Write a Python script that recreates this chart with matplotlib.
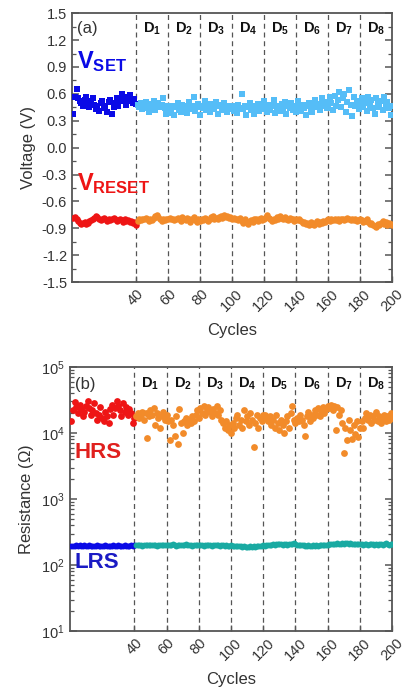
import matplotlib
matplotlib.use("Agg")
import matplotlib.pyplot as plt
from matplotlib.ticker import AutoMinorLocator, LogLocator, NullFormatter

plt.rcParams['font.family'] = ['Liberation Sans', 'DejaVu Sans']
plt.rcParams['mathtext.fontset'] = 'custom'
plt.rcParams['mathtext.rm'] = 'Liberation Sans'
plt.rcParams['mathtext.bf'] = 'Liberation Sans:bold'
plt.rcParams['mathtext.it'] = 'Liberation Sans:italic'

# ---- data -------------------------------------------------------------
cycles_a = list(range(1, 41))
cycles_b = list(range(41, 201))

vset_a = [0.38, 0.57, 0.66, 0.55, 0.52, 0.50, 0.47, 0.53, 0.56, 0.49,
          0.45, 0.52, 0.55, 0.48, 0.43, 0.46, 0.41, 0.50, 0.52, 0.47,
          0.44, 0.40, 0.51, 0.53, 0.38, 0.45, 0.50, 0.55, 0.47, 0.52,
          0.60, 0.57, 0.53, 0.48, 0.56, 0.59, 0.52, 0.50, 0.54, 0.49]

vset_b = [0.48, 0.45, 0.50, 0.43, 0.47, 0.51, 0.44, 0.40, 0.49, 0.46,
          0.52, 0.42, 0.47, 0.50, 0.45, 0.48, 0.55, 0.44, 0.38, 0.46,
          0.43, 0.39, 0.47, 0.36, 0.45, 0.50, 0.42, 0.40, 0.48, 0.44,
          0.46, 0.39, 0.51, 0.43, 0.47, 0.56, 0.41, 0.45, 0.49, 0.37,
          0.47, 0.44, 0.52, 0.42, 0.46, 0.40, 0.49, 0.45, 0.43, 0.51,
          0.38, 0.46, 0.48, 0.42, 0.50, 0.44, 0.40, 0.47, 0.43, 0.45,
          0.41, 0.46, 0.39, 0.48, 0.44, 0.60, 0.43, 0.47, 0.37, 0.45,
          0.50, 0.42, 0.46, 0.38, 0.44, 0.49, 0.41, 0.47, 0.43, 0.52,
          0.45, 0.40, 0.48, 0.42, 0.46, 0.53, 0.39, 0.44, 0.47, 0.41,
          0.49, 0.43, 0.51, 0.38, 0.46, 0.44, 0.50, 0.42, 0.47, 0.40,
          0.52, 0.45, 0.41, 0.48, 0.44, 0.37, 0.46, 0.50, 0.43, 0.40,
          0.47, 0.53, 0.45, 0.49, 0.42, 0.55, 0.47, 0.51, 0.44, 0.48,
          0.56, 0.50, 0.42, 0.58, 0.47, 0.53, 0.62, 0.45, 0.55, 0.60,
          0.40, 0.51, 0.64, 0.48, 0.35, 0.57, 0.46, 0.52, 0.43, 0.49,
          0.55, 0.45, 0.50, 0.41, 0.57, 0.47, 0.53, 0.44, 0.38, 0.55,
          0.49, 0.45, 0.52, 0.42, 0.57, 0.48, 0.51, 0.44, 0.36, 0.47]

vreset_a = [-0.78, -0.77, -0.80, -0.82, -0.84, -0.85, -0.84, -0.83, -0.85, -0.84,
            -0.82, -0.81, -0.79, -0.78, -0.76, -0.77, -0.79, -0.81, -0.80, -0.78,
            -0.80, -0.82, -0.79, -0.81, -0.80, -0.78, -0.80, -0.82, -0.81, -0.79,
            -0.81, -0.83, -0.80, -0.82, -0.81, -0.83, -0.82, -0.84, -0.83, -0.86]

vreset_b = [-0.82, -0.80, -0.81, -0.79, -0.80, -0.78, -0.80, -0.82, -0.79, -0.81,
            -0.78, -0.76, -0.75, -0.77, -0.80, -0.82, -0.80, -0.81, -0.79, -0.80,
            -0.78, -0.80, -0.79, -0.81, -0.80, -0.78, -0.80, -0.82, -0.77, -0.79,
            -0.81, -0.78, -0.80, -0.83, -0.79, -0.77, -0.81, -0.83, -0.80, -0.82,
            -0.79, -0.81, -0.78, -0.80, -0.82, -0.79, -0.77, -0.76, -0.80, -0.78,
            -0.79, -0.77, -0.76, -0.78, -0.75, -0.77, -0.76, -0.78, -0.77, -0.79,
            -0.78, -0.80, -0.79, -0.81, -0.78, -0.82, -0.84, -0.80, -0.83, -0.85,
            -0.82, -0.81, -0.83, -0.80, -0.79, -0.82, -0.80, -0.78, -0.81, -0.79,
            -0.77, -0.75, -0.78, -0.80, -0.82, -0.79, -0.81, -0.77, -0.79, -0.76,
            -0.78, -0.80, -0.77, -0.79, -0.81, -0.78, -0.80, -0.79, -0.82, -0.80,
            -0.81, -0.79, -0.82, -0.84, -0.83, -0.85, -0.84, -0.86, -0.83, -0.85,
            -0.86, -0.84, -0.82, -0.85, -0.83, -0.84, -0.82, -0.83, -0.81, -0.80,
            -0.82, -0.80, -0.81, -0.79, -0.81, -0.80, -0.82, -0.80, -0.79, -0.81,
            -0.80, -0.78, -0.80, -0.81, -0.79, -0.81, -0.80, -0.82, -0.81, -0.80,
            -0.81, -0.83, -0.82, -0.80, -0.83, -0.85, -0.84, -0.86, -0.87, -0.88,
            -0.85, -0.86, -0.84, -0.82, -0.85, -0.83, -0.86, -0.84, -0.85, -0.86]

hrs_a = [1.5e4, 2.2e4, 2.9e4, 2.5e4, 2.0e4, 2.7e4, 2.3e4, 1.8e4, 2.1e4, 2.6e4,
         3.0e4, 2.4e4, 1.9e4, 2.2e4, 2.8e4, 2.0e4, 1.6e4, 1.9e4, 2.5e4, 1.7e4,
         1.5e4, 2.1e4, 1.8e4, 1.4e4, 2.3e4, 2.7e4, 1.9e4, 2.4e4, 3.0e4, 2.6e4,
         2.2e4, 1.8e4, 2.8e4, 2.1e4, 2.5e4, 1.9e4, 2.3e4, 2.0e4, 1.4e4, 1.7e4]

hrs_b = [1.8e4, 2.0e4, 1.7e4, 1.9e4, 2.1e4, 1.6e4, 2.0e4, 8.5e3, 1.8e4, 2.2e4,
         1.9e4, 2.4e4, 1.3e4, 2.0e4, 1.7e4, 1.2e4, 1.8e4, 2.1e4, 1.6e4, 1.9e4,
         1.5e4, 7.8e3, 1.6e4, 1.3e4, 9.0e3, 1.8e4, 6.8e3, 2.3e4, 1.4e4, 1.0e4,
         1.5e4, 1.7e4, 1.3e4, 1.6e4, 1.4e4, 1.8e4, 1.5e4, 1.9e4, 2.2e4, 1.7e4,
         2.4e4, 2.0e4, 2.6e4, 1.9e4, 2.2e4, 2.5e4, 2.1e4, 1.8e4, 2.3e4, 2.0e4,
         2.6e4, 1.9e4, 2.2e4, 1.6e4, 1.4e4, 1.2e4, 1.5e4, 1.1e4, 1.3e4, 1.0e4,
         1.4e4, 1.2e4, 1.7e4, 1.9e4, 1.3e4, 1.6e4, 1.2e4, 2.2e4, 1.5e4, 1.8e4,
         1.3e4, 2.0e4, 1.6e4, 6.2e3, 1.4e4, 1.9e4, 1.2e4, 1.7e4, 1.5e4, 1.9e4,
         1.9e4, 1.7e4, 1.5e4, 1.8e4, 1.3e4, 1.6e4, 1.2e4, 1.9e4, 1.4e4, 1.1e4,
         1.6e4, 1.3e4, 1.0e4, 1.5e4, 1.8e4, 1.2e4, 2.0e4, 2.6e4, 1.6e4, 1.4e4,
         1.7e4, 1.5e4, 1.9e4, 1.6e4, 1.3e4, 9.0e3, 1.8e4, 2.1e4, 1.5e4, 1.9e4,
         1.7e4, 2.2e4, 1.9e4, 2.4e4, 1.8e4, 2.1e4, 2.5e4, 2.0e4, 2.3e4, 2.6e4,
         2.4e4, 2.7e4, 2.2e4, 2.6e4, 1.1e4, 2.5e4, 1.9e4, 2.2e4, 1.4e4, 5.0e3,
         1.2e4, 7.8e3, 1.6e4, 1.1e4, 8.0e3, 1.3e4, 9.5e3, 1.5e4, 8.8e3, 1.2e4,
         1.5e4, 1.2e4, 1.7e4, 2.0e4, 1.6e4, 1.9e4, 1.4e4, 1.8e4, 1.6e4, 2.1e4,
         1.5e4, 1.8e4, 1.4e4, 1.7e4, 1.9e4, 1.5e4, 1.8e4, 1.6e4, 2.0e4, 1.7e4]

lrs_a = [195, 197, 194, 198, 196, 199, 195, 197, 200, 196,
         194, 198, 196, 193, 197, 195, 199, 196, 194, 197,
         195, 198, 196, 193, 197, 195, 198, 194, 196, 199,
         195, 197, 194, 198, 196, 195, 197, 199, 196, 198]

lrs_b = [200, 198, 202, 199, 197, 201, 203, 199, 198, 202,
         200, 204, 199, 197, 201, 203, 198, 200, 202, 199,
         201, 198, 203, 205, 200, 197, 202, 199, 204, 201,
         198, 206, 200, 203, 199, 197, 201, 204, 200, 198,
         202, 199, 197, 201, 203, 199, 200, 196, 202, 198,
         201, 199, 197, 200, 198, 195, 199, 197, 194, 198,
         196, 193, 197, 195, 191, 194, 190, 192, 188, 190,
         187, 191, 189, 193, 190, 194, 192, 196, 194, 198,
         197, 200, 198, 203, 201, 206, 204, 208, 205, 210,
         207, 204, 209, 206, 203, 208, 211, 207, 214, 205,
         203, 200, 198, 202, 199, 197, 196, 199, 197, 195,
         198, 196, 199, 197, 200, 198, 202, 200, 204, 201,
         206, 209, 205, 211, 208, 213, 207, 210, 215, 209,
         217, 212, 208, 214, 210, 206, 211, 207, 209, 205,
         208, 204, 210, 206, 203, 207, 205, 209, 204, 206,
         202, 208, 205, 203, 207, 212, 206, 204, 209, 205]

divider_cycles = [40, 60, 80, 100, 120, 140, 160, 180]
tick_cycles = [40, 60, 80, 100, 120, 140, 160, 180, 200]
device_labels = ['D$_1$', 'D$_2$', 'D$_3$', 'D$_4$', 'D$_5$', 'D$_6$', 'D$_7$', 'D$_8$']
volt_ticks = [1.5, 1.2, 0.9, 0.6, 0.3, 0.0, -0.3, -0.6, -0.9, -1.2, -1.5]

# ---- styling ----------------------------------------------------------
C_BLUE = '#0a0ae6'
C_LBLUE = '#55bdf7'
C_RED = '#ee1515'
C_ORANGE = '#f28b2a'
C_TEAL = '#19aaa2'
C_LRS_TXT = '#1b1bc4'
C_HRS_TXT = '#e0201e'
FRAME = '#555555'
TXT = '#333333'

fig = plt.figure(figsize=(4.06, 6.95), dpi=100)
ax1 = fig.add_axes([0.177, 0.594, 0.789, 0.387])
ax2 = fig.add_axes([0.172, 0.092, 0.794, 0.380])


def style_axis(ax):
    for s in ax.spines.values():
        s.set_color(FRAME)
        s.set_linewidth(1.3)
    ax.tick_params(axis='both', which='both', direction='in', color=FRAME,
                   labelcolor=TXT, labelsize=10.5, right=True, top=False)
    ax.tick_params(axis='y', which='major', length=5, width=1.1)
    ax.tick_params(axis='y', which='minor', length=3, width=0.9)
    ax.tick_params(axis='x', which='major', length=4, width=1.0)
    ax.set_xlim(0, 200)
    ax.set_xticks(tick_cycles)
    ax.set_xticklabels([str(t) for t in tick_cycles], rotation=45, ha='center')
    for xv in divider_cycles:
        ax.axvline(xv, color='#555555', lw=0.9, ls=(0, (4, 3)), zorder=1)
    ax.set_xlabel('Cycles', fontsize=12, color=TXT, labelpad=6)


def device_tags(ax, y, transform):
    for i, lab in enumerate(device_labels):
        xm = (divider_cycles[i] + tick_cycles[i + 1]) / 2
        ax.text(xm, y, r'$\mathbf{' + lab.replace('$', '') + '}$', ha='center', va='center',
                fontsize=10.5, color='#111111', transform=transform)


# ---- (a) switching voltages ----------------------------------------------
style_axis(ax1)
ax1.set_ylim(-1.5, 1.5)
ax1.set_yticks(volt_ticks)
ax1.set_yticklabels(['%.1f' % v for v in volt_ticks])
ax1.yaxis.set_minor_locator(AutoMinorLocator(2))
ax1.scatter(cycles_a, vset_a, marker='s', s=18, color=C_BLUE, lw=0, zorder=3)
ax1.scatter(cycles_b, vset_b, marker='s', s=18, color=C_LBLUE, lw=0, zorder=3)
ax1.scatter(cycles_a, vreset_a, marker='o', s=22, color=C_RED, lw=0, zorder=3)
ax1.scatter(cycles_b, vreset_b, marker='o', s=22, color=C_ORANGE, lw=0, zorder=3)
ax1.set_ylabel('Voltage (V)', fontsize=12, color=TXT, labelpad=4)
ax1.text(3, 1.33, '(a)', fontsize=12, color=TXT, va='center')
ax1.text(3, 0.96, r'$\mathbf{V_{SET}}$', fontsize=17, color=C_BLUE, va='center')
ax1.text(3, -0.40, r'$\mathbf{V_{RESET}}$', fontsize=17, color=C_RED, va='center')
device_tags(ax1, 1.33, ax1.transData)

# ---- (b) resistance states ----------------------------------------------
style_axis(ax2)
ax2.set_yscale('log')
ax2.set_ylim(10, 1e5)
ax2.yaxis.set_major_locator(LogLocator(base=10, numticks=10))
ax2.yaxis.set_minor_locator(LogLocator(base=10, subs=range(2, 10), numticks=20))
ax2.yaxis.set_minor_formatter(NullFormatter())
ax2.scatter(cycles_a, hrs_a, marker='o', s=24, color=C_RED, lw=0, zorder=3)
ax2.scatter(cycles_b, hrs_b, marker='o', s=24, color=C_ORANGE, lw=0, zorder=3)
ax2.scatter(cycles_a, lrs_a, marker='o', s=18, color=C_BLUE, lw=0, zorder=3)
ax2.scatter(cycles_b, lrs_b, marker='o', s=18, color=C_TEAL, lw=0, zorder=3)
ax2.set_ylabel('Resistance ($\\Omega$)', fontsize=12, color=TXT, labelpad=4)
ax2.text(3, 5.5e4, '(b)', fontsize=12, color=TXT, va='center')
ax2.text(3, 5.0e3, 'HRS', fontsize=16, color=C_HRS_TXT, va='center', fontweight='bold')
ax2.text(3, 1.1e2, 'LRS', fontsize=16, color=C_LRS_TXT, va='center', fontweight='bold')
device_tags(ax2, 5.5e4, ax2.transData)

fig.savefig('out.png', dpi=100)
